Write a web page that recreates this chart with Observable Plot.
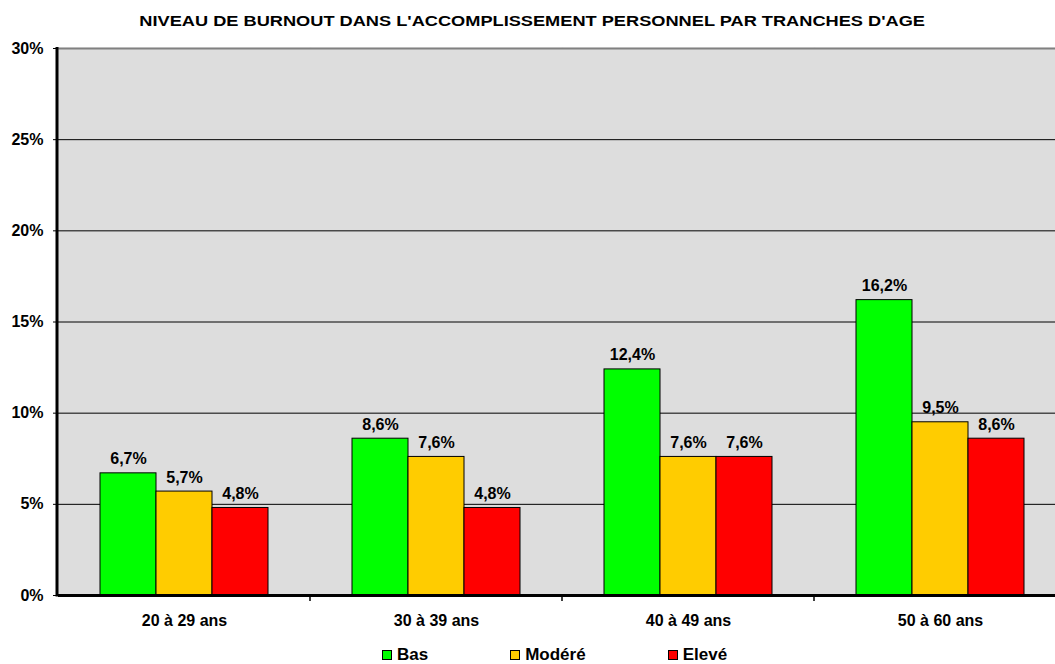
<!DOCTYPE html>
<html>
<head>
<meta charset="utf-8">
<script src="https://cdn.jsdelivr.net/npm/d3@7"></script>
<script src="https://cdn.jsdelivr.net/npm/@observablehq/plot@0.6"></script>
<style>
  html, body { margin: 0; padding: 0; overflow: hidden; background: #fff; width: 1055px; height: 664px; }
  body { font-family: "Liberation Sans", Arial, sans-serif; font-weight: bold; color: #000; }
  #title { height: 40px; width: 1055px; text-align: center; padding-left: 10px; box-sizing: border-box; }
  #title span { display: inline-block; font-size: 14px; line-height: 42px; transform: scaleX(1.3); transform-origin: center; white-space: nowrap; }
  #chart { width: 1055px; height: 600px; overflow: hidden; }
  #legend { height: 24px; display: flex; align-items: center; padding-left: 382px; gap: 82px; font-size: 17px; margin-top: 3px; }
  #legend .item { display: flex; align-items: center; gap: 5px; }
  #legend .sw { width: 8px; height: 8px; border: 1px solid #000; display: inline-block; }
</style>
</head>
<body>
<div id="title"><span>NIVEAU DE BURNOUT DANS L'ACCOMPLISSEMENT PERSONNEL PAR TRANCHES D'AGE</span></div>
<div id="chart"></div>
<div id="legend"></div>
<script>
const groups = ["20 à 29 ans", "30 à 39 ans", "40 à 49 ans", "50 à 60 ans"];
const series = ["Bas", "Modéré", "Elevé"];
const colors = ["#00FF00", "#FFCC00", "#FF0000"];
const bas = [6.7, 8.6, 12.4, 16.2];
const modere = [5.7, 7.6, 7.6, 9.5];
const eleve = [4.8, 4.8, 7.6, 8.6];
const yTicks = [0, 5, 10, 15, 20, 25, 30];
const gridTicks = [5, 10, 15, 20, 25];

const valuesBySeries = [bas, modere, eleve];
const data = [];
groups.forEach((g, gi) => {
  series.forEach((s, si) => {
    data.push({group: g, series: s, value: valuesBySeries[si][gi]});
  });
});

const fmt = v => v.toFixed(1).replace(".", ",") + "%";

const plot = Plot.plot({
  width: 1066,
  height: 600,
  marginLeft: 58,
  marginRight: 0,
  marginTop: 8,
  marginBottom: 45,
  style: {fontFamily: "Liberation Sans, Arial, sans-serif", fontSize: "16px", fontWeight: "bold", color: "#000", background: "transparent", maxWidth: "none"},
  fx: {domain: groups, padding: 0, axis: "bottom", tickSize: 0, tickPadding: 19, label: null},
  x: {domain: series, paddingInner: 0, paddingOuter: 0.75, axis: null},
  y: {domain: [0, 30], ticks: yTicks, tickFormat: d => d + "%", tickSize: 5, tickPadding: 10, label: null},
  color: {domain: series, range: colors},
  marks: [
    Plot.frame({fill: "#DDDDDD", stroke: "#DDDDDD", strokeWidth: 1.5}),
    Plot.ruleY(gridTicks, {stroke: "#000", strokeWidth: 1}),
    Plot.ruleY([30], {stroke: "#808080", strokeWidth: 2}),
    Plot.barY(data, {fx: "group", x: "series", y: "value", fill: "series", stroke: "#000", strokeWidth: 1}),
    Plot.text(data, {fx: "group", x: "series", y: "value", text: d => fmt(d.value), lineAnchor: "bottom", dy: -9, fontSize: 16, fontWeight: "bold", fill: "#000"}),
    Plot.ruleY([0], {stroke: "#000", strokeWidth: 3})
  ]
});

document.getElementById("chart").appendChild(plot);

// Left axis line and group-boundary ticks from the plot's own scales
const fx = plot.scale("fx");
const y = plot.scale("y");
const svg = d3.select(plot);
const x0 = fx.apply(groups[0]);
svg.append("line")
  .attr("x1", x0 - 1).attr("x2", x0 - 1)
  .attr("y1", y.apply(30) - 1).attr("y2", y.apply(0) + 1.5)
  .attr("stroke", "#000").attr("stroke-width", 3);
groups.slice(1).forEach(g => {
  const xx = fx.apply(g);
  svg.append("line")
    .attr("x1", xx).attr("x2", xx)
    .attr("y1", y.apply(0)).attr("y2", y.apply(0) + 6)
    .attr("stroke", "#000").attr("stroke-width", 1.5);
});

const legend = d3.select("#legend");
series.forEach((s, i) => {
  const item = legend.append("div").attr("class", "item");
  item.append("span").attr("class", "sw").style("background", colors[i]);
  item.append("span").text(s);
});
</script>
</body>
</html>
